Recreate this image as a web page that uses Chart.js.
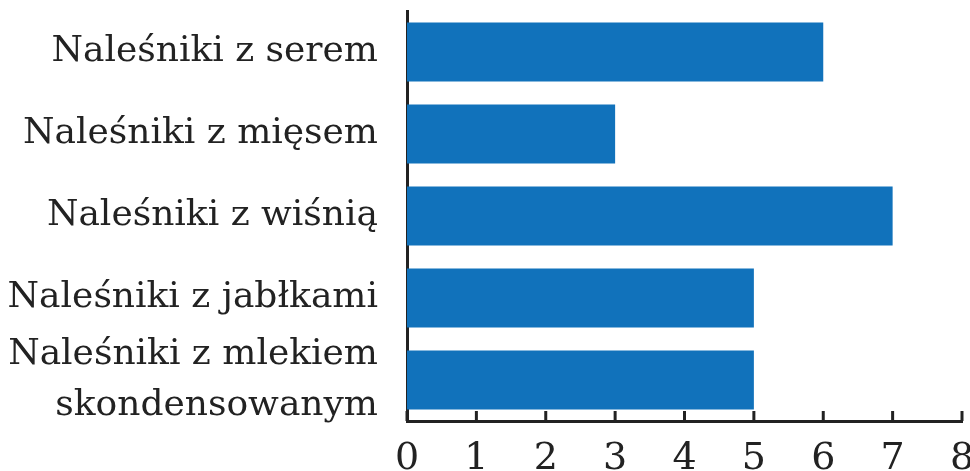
<!DOCTYPE html>
<html>
<head>
<meta charset="utf-8">
<script src="https://cdn.jsdelivr.net/npm/chart.js@4/dist/chart.umd.min.js"></script>
<style>
  html, body { margin: 0; padding: 0; background: #fff; }
  #wrap { width: 970px; height: 471px; }
</style>
</head>
<body>
<div id="wrap"><canvas id="pancakeChart"></canvas></div>
<script>
const categories = [
  "Naleśniki z serem",
  "Naleśniki z mięsem",
  "Naleśniki z wiśnią",
  "Naleśniki z jabłkami",
  ["Naleśniki z mlekiem", "skondensowanym"]
];
const votes = [6, 3, 7, 5, 5];
const xTicks = [0, 1, 2, 3, 4, 5, 6, 7, 8];

const axisColor = "#222";
const fontFamily = "'DejaVu Serif', serif";

// small tick marks pointing up into the plot from the bottom axis
const innerTicks = {
  id: "innerTicks",
  afterDatasetsDraw(chart) {
    const x = chart.scales.x;
    const ctx = chart.ctx;
    ctx.save();
    ctx.strokeStyle = axisColor;
    ctx.lineWidth = 3;
    xTicks.forEach(v => {
      const px = x.getPixelForValue(v);
      ctx.beginPath();
      ctx.moveTo(px, x.top);
      ctx.lineTo(px, x.top - 10);
      ctx.stroke();
    });
    ctx.restore();
  }
};

const ctx = document.getElementById("pancakeChart").getContext("2d");

new Chart(ctx, {
  type: "bar",
  data: {
    labels: categories,
    datasets: [{
      data: votes,
      backgroundColor: "#1172bb",
      borderWidth: 0,
      barPercentage: 0.72,
      categoryPercentage: 1
    }]
  },
  plugins: [innerTicks],
  options: {
    indexAxis: "y",
    responsive: true,
    maintainAspectRatio: false,
    animation: false,
    layout: { padding: { top: 11, right: 0, left: 0, bottom: 0 } },
    plugins: {
      legend: { display: false },
      tooltip: { enabled: false }
    },
    scales: {
      x: {
        min: 0,
        max: 8,
        afterBuildTicks: scale => {
          scale.ticks = xTicks.map(v => ({ value: v }));
        },
        afterFit: scale => {
          scale.height = 50;
          scale.paddingLeft = 0;
          scale.paddingRight = 8;
        },
        grid: { display: false, drawTicks: false },
        border: { display: true, color: axisColor, width: 3 },
        ticks: {
          color: "#222",
          padding: 15,
          font: { family: fontFamily, size: 38 }
        }
      },
      y: {
        afterFit: scale => {
          scale.width = 407;
          scale.paddingTop = 0;
          scale.paddingBottom = 0;
        },
        grid: { display: false, drawTicks: false },
        border: { display: true, color: axisColor, width: 3 },
        ticks: {
          autoSkip: false,
          color: "#222",
          padding: 29,
          font: { family: fontFamily, size: 36, lineHeight: 1.4 }
        }
      }
    }
  }
});
</script>
</body>
</html>
